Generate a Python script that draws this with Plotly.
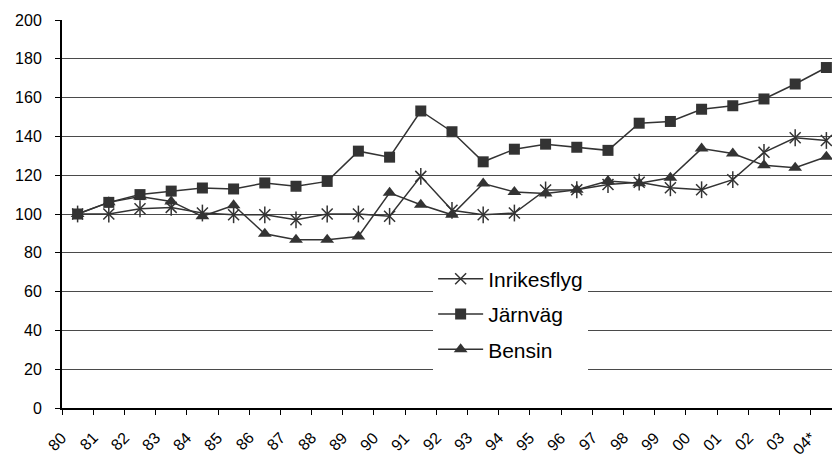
import plotly.graph_objects as go

# Index series, 1980 = 100
years = ["80", "81", "82", "83", "84", "85", "86", "87", "88", "89", "90", "91", "92",
         "93", "94", "95", "96", "97", "98", "99", "00", "01", "02", "03", "04*"]

inrikesflyg = [100, 100, 102.7, 103.4, 100.5, 99.6, 99.6, 97, 100, 100, 98.8, 119.4, 101.9,
               99.6, 100.5, 112.4, 112.5, 115.2, 116.4, 113.5, 112.5, 117.7, 131.8, 139.3, 137.9]
jarnvag = [100, 106, 110, 111.8, 113.4, 112.9, 116, 114.3, 116.8, 132.4, 129.3, 153.1, 142.4,
           126.9, 133.4, 136, 134.4, 132.8, 146.8, 147.7, 154, 155.8, 159.3, 167, 175.5]
bensin = [100, 106, 109, 106.5, 98.8, 104.5, 89.8, 86.7, 86.7, 88.4, 110.9, 104.8, 99.6,
          115.7, 111.4, 110.6, 112.5, 117, 115.8, 118.7, 133.7, 131.2, 125.1, 123.8, 129.5]

y_ticks = [0, 20, 40, 60, 80, 100, 120, 140, 160, 180, 200]

ink = "#333333"
line_style = dict(color=ink, width=1.5)

fig = go.Figure()

# Star marker: diagonal cross plus a vertical stroke
fig.add_trace(go.Scatter(
    x=years, y=inrikesflyg, name="Inrikesflyg", mode="lines+markers",
    line=line_style, legendgroup="a",
    marker=dict(symbol="x-thin-open", size=11, color=ink, line=dict(color=ink, width=1.5)),
))
fig.add_trace(go.Scatter(
    x=years, y=inrikesflyg, mode="markers", showlegend=False, hoverinfo="skip",
    marker=dict(symbol="line-ns-open", size=12, color=ink, line=dict(color=ink, width=1.5)),
))
fig.add_trace(go.Scatter(
    x=years, y=jarnvag, name="Järnväg", mode="lines+markers",
    line=line_style, legendgroup="b",
    marker=dict(symbol="square", size=11, color=ink),
))
fig.add_trace(go.Scatter(
    x=years, y=bensin, name="Bensin", mode="lines+markers",
    line=line_style, legendgroup="c",
    marker=dict(symbol="triangle-up", size=12, color=ink),
))

# Slanted year labels: the upper-right end of each label sits a little left of
# its category centre, so each label is placed by its centre along the slant.
# Category positions are given by index so labels like "00" stay text.
label_size = 16
char_em = {"*": 0.389}
annotations = []
for i, yr in enumerate(years):
    text_len = sum(char_em.get(c, 0.556) for c in yr) * label_size
    half = text_len / 2 * 0.7071
    annotations.append(dict(
        x=i, xref="x", y=0, yref="paper",
        text=yr, showarrow=False, textangle=-45,
        xanchor="center", yanchor="middle",
        xshift=-14 - half, yshift=-27 - half,
        font=dict(size=label_size, color="black"),
    ))

fig.update_layout(
    width=832, height=458,
    margin=dict(l=62, r=0, t=20, b=50),
    paper_bgcolor="white", plot_bgcolor="white",
    font=dict(family="Liberation Sans, Arial, sans-serif", color="black", size=16),
    showlegend=True,
    legend=dict(
        x=0.482, y=0.385, xanchor="left", yanchor="top",
        bgcolor="white", borderwidth=0,
        font=dict(size=21, color="black"),
        tracegroupgap=5, itemwidth=45,
    ),
    annotations=annotations,
    xaxis=dict(
        type="category", range=[-0.5, 24.18],
        showgrid=False, showline=True, linecolor="black", linewidth=1.5,
        ticks="outside", tickson="boundaries", ticklen=5, tickcolor="black",
        showticklabels=False,
    ),
    yaxis=dict(
        range=[0, 200], tickvals=y_ticks, ticktext=[str(v) for v in y_ticks],
        showgrid=True, gridcolor="#4a4a4a", gridwidth=1,
        zeroline=False, showline=True, linecolor="black", linewidth=2,
        ticks="outside", ticklen=5, tickcolor="black",
        ticklabelstandoff=10, tickfont=dict(size=16),
    ),
)

fig.write_html("out.html")
